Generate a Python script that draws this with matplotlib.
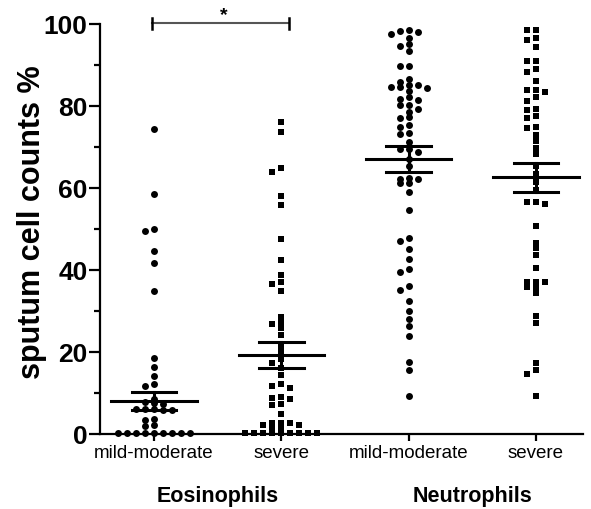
import matplotlib
matplotlib.use("Agg")
from matplotlib import pyplot as plt
from matplotlib.ticker import MultipleLocator

plt.rcParams['font.family'] = ['Liberation Sans', 'DejaVu Sans']

# values (sputum cell counts %)
eos_mild = [74.3, 58.5, 50.0, 49.5, 44.7, 41.8, 35.0, 18.6, 16.3, 14.1, 12.3, 11.8,
            8.6, 7.8, 7.5, 7.3, 6.0, 6.1, 5.9, 6.0, 5.8, 3.6, 3.4, 2.2, 2.0,
            0.3, 0.3, 0.3, 0.3, 0.3, 0.3, 0.3, 0.3, 0.3]
eos_severe = [76.0, 73.6, 65.0, 64.0, 58.0, 55.9, 47.6, 42.4, 38.8, 37.0, 36.5, 35.0,
              28.6, 27.1, 26.8, 25.8, 24.2, 21.5, 20.0, 18.4, 17.4, 16.2, 14.3, 12.1,
              11.8, 11.2, 9.0, 8.7, 8.6, 7.2, 7.0, 4.9, 2.8, 2.8, 2.6, 2.2, 2.2, 1.4, 1.4,
              0.3, 0.3, 0.3, 0.3, 0.3, 0.3, 0.3, 0.3, 0.3]
neu_mild = [98.6, 98.4, 98.1, 97.6, 96.6, 95.1, 94.6, 93.3, 89.7, 89.7, 86.6, 85.8,
            85.2, 85.1, 84.6, 84.6, 84.4, 83.6, 82.3, 81.7, 81.5, 80.2, 80.2, 79.3,
            78.5, 77.4, 77.1, 75.4, 75.0, 73.4, 73.2, 71.3, 69.5, 69.5, 68.7, 67.1,
            65.4, 62.4, 62.3, 62.2, 61.2, 61.2, 59.1, 54.7, 47.7, 47.0, 45.1, 42.7,
            40.2, 39.4, 36.2, 35.2, 32.5, 30.1, 28.0, 26.3, 24.0, 17.5, 15.7, 9.2]
neu_severe = [98.5, 98.5, 96.7, 96.2, 94.3, 91.0, 91.0, 89.0, 88.2, 86.2, 83.9, 83.9,
              83.5, 82.3, 81.3, 79.3, 79.1, 77.6, 77.0, 75.0, 74.6, 72.9, 71.4, 69.7,
              68.3, 65.4, 63.4, 61.4, 59.6, 56.5, 56.5, 56.1, 50.7, 46.6, 45.3, 43.7,
              40.5, 37.0, 37.0, 37.0, 35.8, 35.8, 34.4, 28.9, 27.1, 17.3, 15.5, 14.6, 9.3]

series = [eos_mild, eos_severe, neu_mild, neu_severe]
markers = ['o', 's', 'o', 's']
means = [8.0, 19.3, 67.1, 62.6]
sems = [2.15, 3.15, 3.15, 3.6]
tick_labels = ['mild-moderate', 'severe', 'mild-moderate', 'severe']
groups = ['Eosinophils', 'Neutrophils']

fig = plt.figure(figsize=(5.91, 5.10), dpi=100)
ax = fig.add_axes([100 / 591, 75 / 510, 483 / 591, 410 / 510])
ax.set_xlim(0.575, 4.37)
ax.set_ylim(0, 100)


def swarm_offsets(values, col_px=9.0, min_dy=4.5):
    # greedy column layout, like a prism scatter dot plot
    placed = []
    cols = []
    order = [0]
    for k in range(1, 12):
        order += [-k, k]
    for v in values:
        y = ax.transData.transform((0, v))[1]
        for c in order:
            if all(not (pc == c and abs(py - y) < min_dy) for pc, py in placed):
                break
        placed.append((c, y))
        cols.append(c)
    px_per_x = ax.transData.transform((1, 0))[0] - ax.transData.transform((0, 0))[0]
    return [c * col_px / px_per_x for c in cols]


for i, vals in enumerate(series):
    xc = i + 1
    offs = swarm_offsets(vals)
    ax.plot([xc + o for o in offs], vals, linestyle='none', marker=markers[i],
            markersize=5.0, color='black', markeredgewidth=0, clip_on=False, zorder=3)
    # mean +- SEM
    ax.plot([xc - 0.335, xc + 0.335], [means[i], means[i]], color='black', lw=2.2, zorder=4)
    ax.plot([xc - 0.175, xc + 0.175], [means[i] + sems[i]] * 2, color='black', lw=2.2, zorder=4)
    ax.plot([xc - 0.175, xc + 0.175], [means[i] - sems[i]] * 2, color='black', lw=2.2, zorder=4)
    ax.plot([xc, xc], [means[i] - sems[i], means[i] + sems[i]], color='black', lw=2.2, zorder=4)

# significance bracket
ax.plot([0.98, 2.06], [100.2, 100.2], color='#555555', lw=1.5, clip_on=False)
ax.plot([0.98, 0.98], [98.9, 101.5], color='black', lw=1.8, clip_on=False)
ax.plot([2.06, 2.06], [98.9, 101.5], color='black', lw=1.8, clip_on=False)
ax.text(1.545, 100.3, '*', ha='center', va='bottom', fontsize=14, fontweight='bold')

for s in ['top', 'right']:
    ax.spines[s].set_visible(False)
for s in ['left', 'bottom']:
    ax.spines[s].set_linewidth(1.6)

ax.yaxis.set_major_locator(MultipleLocator(20))
ax.yaxis.set_minor_locator(MultipleLocator(10))
ax.tick_params(axis='y', which='major', length=8, width=1.6, labelsize=19, pad=1)
ax.tick_params(axis='y', which='minor', length=4, width=1.6)
for lab in ax.get_yticklabels():
    lab.set_fontweight('bold')
ax.set_xticks([1, 2, 3, 4])
ax.set_xticklabels(tick_labels, fontsize=13.5)
ax.tick_params(axis='x', length=5, width=1.6, pad=2)

fig.text(32 / 591, 1 - 222 / 510, 'sputum cell counts %', rotation=90,
         ha='center', va='center', fontsize=22, fontweight='bold')

ax.text(1.5, -14.9, groups[0], ha='center', va='center', fontsize=15.5, fontweight='bold')
ax.text(3.5, -14.9, groups[1], ha='center', va='center', fontsize=15.5, fontweight='bold')

fig.savefig('out.png', dpi=100)
